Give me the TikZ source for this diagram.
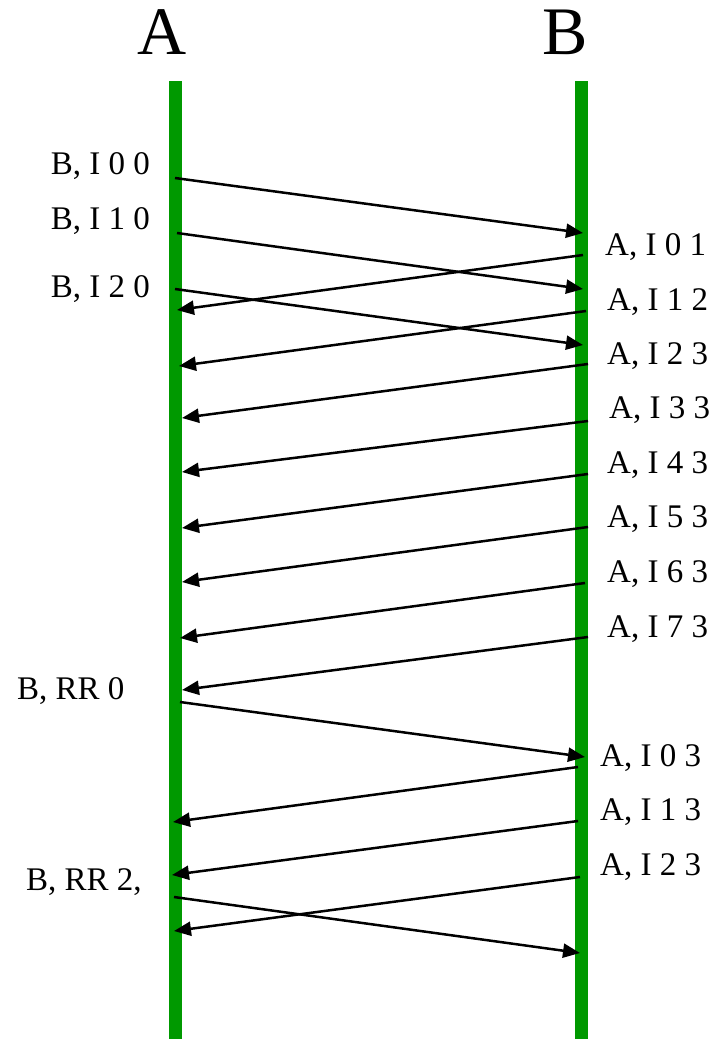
\documentclass[tikz,border=0pt]{standalone}
\usepackage{fontspec}
\setmainfont{Liberation Serif}
\usetikzlibrary{arrows.meta}
\definecolor{lifegreen}{RGB}{0,153,0}
\tikzset{
  life/.style={draw=lifegreen, line width=13pt},
  msg/.style={-{Triangle[length=17pt,width=14pt]}, line width=2.5pt},
  head/.style={inner sep=0pt, font=\fontsize{68}{68}\selectfont},
  lbl/.style={inner sep=0pt, font=\fontsize{33}{33}\selectfont},
}
\begin{document}
\begin{tikzpicture}[x=1pt, y=-1pt]
        \useasboundingbox (0,0) rectangle (711,1039);

        % stations
        \node[head, anchor=base] (A) at (162,54) {A};
        \node[head, anchor=base] (B) at (565,54) {B};
        \coordinate (Atop) at (175.5,81);
        \coordinate (Abot) at (175.5,1039);
        \coordinate (Btop) at (581.5,81);
        \coordinate (Bbot) at (581.5,1039);
        \draw[life] (Atop) -- (Abot);
        \draw[life] (Btop) -- (Bbot);

        % frames sent by A
        \node[lbl, anchor=base east] (bi00) at (150,174) {B, I 0 0};
        \node[lbl, anchor=base east] (bi10) at (150,229) {B, I 1 0};
        \node[lbl, anchor=base east] (bi20) at (150,297) {B, I 2 0};
        \node[lbl, anchor=base west] (brr0) at (17,699) {B, RR 0};
        \node[lbl, anchor=base west] (brr2) at (26,890) {B, RR 2,};

        % frames sent by B
        \node[lbl, anchor=base west] (ai01) at (605,255) {A, I 0 1};
        \node[lbl, anchor=base west] (ai12) at (607,310) {A, I 1 2};
        \node[lbl, anchor=base west] (ai23) at (607,364) {A, I 2 3};
        \node[lbl, anchor=base west] (ai33) at (609,418) {A, I 3 3};
        \node[lbl, anchor=base west] (ai43) at (607,473) {A, I 4 3};
        \node[lbl, anchor=base west] (ai53) at (607,527) {A, I 5 3};
        \node[lbl, anchor=base west] (ai63) at (607,582) {A, I 6 3};
        \node[lbl, anchor=base west] (ai73) at (607,637) {A, I 7 3};
        \node[lbl, anchor=base west] (ai03) at (600,766) {A, I 0 3};
        \node[lbl, anchor=base west] (ai13) at (600,820) {A, I 1 3};
        \node[lbl, anchor=base west] (ai23b) at (600,875) {A, I 2 3};

        % end points on A
        \coordinate (a1) at (175,178);
        \coordinate (a2) at (177,233);
        \coordinate (a3) at (175,289);
        \coordinate (a4) at (177,310);
        \coordinate (a5) at (179,366);
        \coordinate (a6) at (182,418);
        \coordinate (a7) at (182,472);
        \coordinate (a8) at (182,528);
        \coordinate (a9) at (182,582);
        \coordinate (a10) at (180,638);
        \coordinate (a11) at (182,690);
        \coordinate (a12) at (180,702);
        \coordinate (a13) at (173,822);
        \coordinate (a14) at (172,875);
        \coordinate (a15) at (174,897);
        \coordinate (a16) at (174,931);

        % end points on B
        \coordinate (b1) at (583,233);
        \coordinate (b2) at (583,289);
        \coordinate (b3) at (583,345);
        \coordinate (b4) at (583,255);
        \coordinate (b5) at (586,311);
        \coordinate (b6) at (588,364);
        \coordinate (b7) at (588,421);
        \coordinate (b8) at (588,474);
        \coordinate (b9) at (588,527);
        \coordinate (b10) at (585,583);
        \coordinate (b11) at (588,637);
        \coordinate (b12) at (585,757);
        \coordinate (b13) at (578,767);
        \coordinate (b14) at (578,821);
        \coordinate (b15) at (580,953);
        \coordinate (b16) at (580,877);

        % A to B
        \draw[msg] (a1) -- (b1);
        \draw[msg] (a2) -- (b2);
        \draw[msg] (a3) -- (b3);
        \draw[msg] (a12) -- (b12);
        \draw[msg] (a15) -- (b15);

        % B to A
        \draw[msg] (b4) -- (a4);
        \draw[msg] (b5) -- (a5);
        \draw[msg] (b6) -- (a6);
        \draw[msg] (b7) -- (a7);
        \draw[msg] (b8) -- (a8);
        \draw[msg] (b9) -- (a9);
        \draw[msg] (b10) -- (a10);
        \draw[msg] (b11) -- (a11);
        \draw[msg] (b13) -- (a13);
        \draw[msg] (b14) -- (a14);
        \draw[msg] (b16) -- (a16);
\end{tikzpicture}
\end{document}
